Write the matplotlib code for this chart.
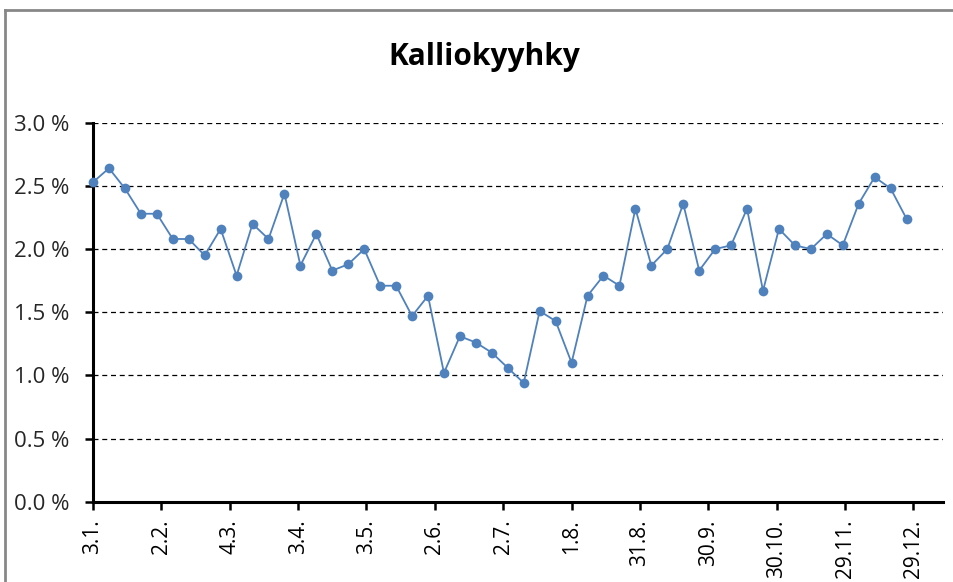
import datetime as dt

import matplotlib
matplotlib.use("Agg")
import matplotlib.pyplot as plt
from matplotlib.lines import Line2D
from matplotlib.ticker import FuncFormatter, MultipleLocator

plt.rcParams["font.family"] = ["Open Sans", "DejaVu Sans"]

# weekly observation dates
week_dates = [
    "2010-01-03", "2010-01-10", "2010-01-17", "2010-01-24", "2010-01-31",
    "2010-02-07", "2010-02-14", "2010-02-21", "2010-02-28",
    "2010-03-07", "2010-03-14", "2010-03-21", "2010-03-28",
    "2010-04-04", "2010-04-11", "2010-04-18", "2010-04-25",
    "2010-05-02", "2010-05-09", "2010-05-16", "2010-05-23", "2010-05-30",
    "2010-06-06", "2010-06-13", "2010-06-20", "2010-06-27",
    "2010-07-04", "2010-07-11", "2010-07-18", "2010-07-25",
    "2010-08-01", "2010-08-08", "2010-08-15", "2010-08-22", "2010-08-29",
    "2010-09-05", "2010-09-12", "2010-09-19", "2010-09-26",
    "2010-10-03", "2010-10-10", "2010-10-17", "2010-10-24", "2010-10-31",
    "2010-11-07", "2010-11-14", "2010-11-21", "2010-11-28",
    "2010-12-05", "2010-12-12", "2010-12-19", "2010-12-26",
]

# share of observations, percent
share = [
    2.53, 2.64, 2.48, 2.28, 2.28, 2.08, 2.08, 1.95, 2.16, 1.79,
    2.20, 2.08, 2.44, 1.87, 2.12, 1.83, 1.88, 2.00, 1.71, 1.71,
    1.47, 1.63, 1.02, 1.31, 1.26, 1.18, 1.06, 0.94, 1.51, 1.43,
    1.10, 1.63, 1.79, 1.71, 2.32, 1.87, 2.00, 2.36, 1.83, 2.00,
    2.03, 2.32, 1.67, 2.16, 2.03, 2.00, 2.12, 2.03, 2.36, 2.57,
    2.48, 2.24,
]

tick_dates = [
    "2010-01-03", "2010-02-02", "2010-03-04", "2010-04-03", "2010-05-03",
    "2010-06-02", "2010-07-02", "2010-08-01", "2010-08-31", "2010-09-30",
    "2010-10-30", "2010-11-29", "2010-12-29",
]
tick_labels = [
    "3.1.", "2.2.", "4.3.", "3.4.", "3.5.", "2.6.", "2.7.", "1.8.",
    "31.8.", "30.9.", "30.10.", "29.11.", "29.12.",
]

title = "Kalliokyyhky"

to_date = lambda s: dt.datetime.strptime(s, "%Y-%m-%d")
x = [to_date(d) for d in week_dates]
xt = [to_date(d) for d in tick_dates]

fig = plt.figure(figsize=(9.54, 5.82), dpi=100)
ax = fig.add_axes([0.0975, 0.138, 0.891, 0.651])

ax.plot(x, share, color="#4F81BD", lw=1.3, marker="o", ms=7,
        markeredgewidth=0, zorder=3, clip_on=False)

ax.set_ylim(0, 3.0)
ax.yaxis.set_major_locator(MultipleLocator(0.5))
ax.yaxis.set_major_formatter(FuncFormatter(lambda v, p: "%.1f %%" % v))
ax.grid(axis="y", color="black", linestyle=(0, (4, 3)), linewidth=0.9)
ax.set_axisbelow(True)

ax.set_xlim(xt[0], xt[0] + dt.timedelta(days=373))
ax.set_xticks(xt)
ax.set_xticklabels(tick_labels, rotation=90)

for s in ("top", "right"):
    ax.spines[s].set_visible(False)
for s in ("left", "bottom"):
    ax.spines[s].set_linewidth(2.2)
ax.tick_params(axis="y", length=6, width=1.8, pad=11, labelsize=16,
               labelcolor="#262626")
ax.tick_params(axis="x", length=6, width=1.8, pad=7, labelsize=15)

fig.text(0.508, 0.902, title, ha="center", va="center",
         fontsize=21.5, fontweight="bold")

# chart border
fig.add_artist(Line2D([0.005, 1.0], [0.983, 0.983], color="#888888", lw=2))
fig.add_artist(Line2D([0.005, 0.005], [0.0, 0.983], color="#888888", lw=2))

fig.savefig("out.png", dpi=100)
